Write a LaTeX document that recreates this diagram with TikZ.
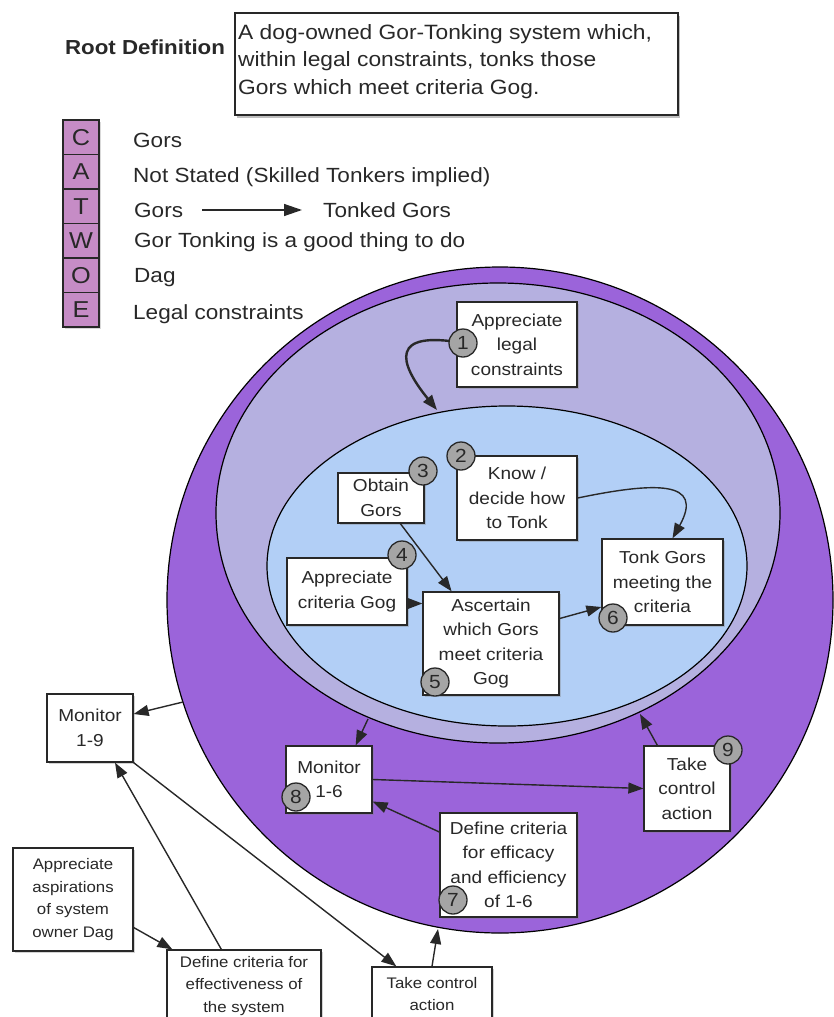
\documentclass[tikz,border=0pt]{standalone}
\usepackage{fontspec}
\setmainfont[FakeStretch=1.1]{Liberation Sans}
\usetikzlibrary{arrows.meta,shadows,calc}

\definecolor{ringpurple}{RGB}{155,100,218}
\definecolor{lavender}{RGB}{181,176,224}
\definecolor{skyblue}{RGB}{178,207,246}
\definecolor{catwoefill}{RGB}{198,140,198}
\definecolor{ink}{RGB}{40,40,40}
\definecolor{badgegray}{RGB}{165,165,165}

\begin{document}
\begin{tikzpicture}[x=1pt,y=-1pt,
  box/.style={draw=ink, line width=1.3pt, fill=white, inner sep=0pt, align=center,
    text=ink, drop shadow={shadow xshift=1.5pt, shadow yshift=-1.5pt, opacity=0.35},
    font=\fontsize{17.3}{24.5}\selectfont},
  smallbox/.style={box, font=\fontsize{15.3}{22.7}\selectfont},
  badge/.style={circle, draw=ink, line width=1.3pt, fill=badgegray, minimum size=28pt,
    inner sep=0pt, text=ink, font=\fontsize{19}{19}\selectfont},
  arr/.style={draw=ink, line width=1.4pt, -{Triangle[length=15pt,width=11pt]}},
  letterbox/.style={draw=ink, line width=1.2pt, fill=catwoefill, minimum width=36pt,
    minimum height=34.5pt, inner sep=0pt, text=ink, font=\fontsize{23}{23}\selectfont,
    drop shadow={shadow xshift=1.5pt, shadow yshift=-1.5pt, opacity=0.3}},
  catwoetext/.style={anchor=west, inner sep=0pt, text=ink, font=\fontsize{20.5}{24}\selectfont},
]
\useasboundingbox (0,0) rectangle (834,1017);
\clip (0,0) rectangle (834,1017);

% ---- Root definition ----
\node[inner sep=0pt, text=ink, font=\bfseries\fontsize{20.3}{24}\selectfont] (rdlabel) at (145,47) {Root Definition};
\node[draw=ink, line width=1.3pt, fill=white, minimum width=443pt, minimum height=102pt,
  drop shadow={shadow xshift=2pt, shadow yshift=-2.5pt, opacity=0.5}] (rootbox) at (456.5,64) {};
\node[anchor=north west, inner sep=0pt, align=left, text=ink,
  font=\fontsize{20.7}{27.7}\selectfont] (roottext) at (238,24)
  {A dog-owned Gor-Tonking system which,\\within legal constraints, tonks those\\Gors which meet criteria Gog.};

% ---- CATWOE ----
\node[letterbox] (cC) at (81,137.25) {C};
\node[letterbox] (cA) at (81,171.75) {A};
\node[letterbox] (cT) at (81,206.25) {T};
\node[letterbox] (cW) at (81,240.75) {W};
\node[letterbox] (cO) at (81,275.25) {O};
\node[letterbox] (cE) at (81,309.75) {E};

\node[catwoetext] (tC) at (133,140) {Gors};
\node[catwoetext] (tA) at (133,177) {Not Stated (Skilled Tonkers implied)};
\node[catwoetext] (tT1) at (134,210) {Gors};
\node[catwoetext] (tT2) at (323,210) {Tonked Gors};
\node[catwoetext] (tW) at (134,242) {Gor Tonking is a good thing to do};
\node[catwoetext] (tO) at (134,278) {Dag};
\node[catwoetext] (tE) at (133,314) {Legal constraints};
\draw[draw=ink, line width=1.4pt, -{Triangle[length=18pt,width=12pt]}]
  ([xshift=19pt]tT1.east) -- ([xshift=-21pt]tT2.west);

% ---- System circles ----
\draw[fill=ringpurple, draw=black, line width=1.2pt] (500,600) circle (333);
\draw[fill=lavender, draw=black, line width=1.2pt] (498,513) ellipse [x radius=282, y radius=230];
\draw[fill=skyblue, draw=black, line width=1.2pt] (507,566) ellipse [x radius=240, y radius=160];

\coordinate (e1) at (437,410);
\coordinate (lavS) at (368,719);
\coordinate (lavE) at (640,714);
\coordinate (circW) at (183,702);
\coordinate (circS) at (438,929);

% ---- Activity boxes ----
\node[box, minimum width=120pt, minimum height=85pt] (n1) at (517,344.5) {Appreciate\\legal\\constraints};
\node[box, minimum width=120pt, minimum height=84pt] (n2) at (517,498) {Know /\\decide how\\to Tonk};
\node[box, minimum width=86pt, minimum height=50pt] (n3) at (381,498) {Obtain\\Gors};
\node[box, minimum width=120pt, minimum height=67pt] (n4) at (347,591.5) {Appreciate\\criteria Gog};
\node[box, minimum width=136pt, minimum height=103pt] (n5) at (491,643.5) {Ascertain\\which Gors\\meet criteria\\Gog};
\node[box, minimum width=121pt, minimum height=86pt] (n6) at (662.5,582) {Tonk Gors\\meeting the\\criteria};
\node[box, minimum width=137pt, minimum height=104pt] (n7) at (508.5,865) {Define criteria\\for efficacy\\and efficiency\\of 1-6};
\node[box, minimum width=86pt, minimum height=67pt] (n8) at (329,779.5) {Monitor\\1-6};
\node[box, minimum width=86pt, minimum height=85pt] (n9) at (687,788.5) {Take\\control\\action};

\node[box, minimum width=86pt, minimum height=68pt] (m19) at (90,728) {Monitor\\1-9};
\node[smallbox, minimum width=120pt, minimum height=103pt] (dag) at (73,899.5) {Appreciate\\aspirations\\of system\\owner Dag};
\node[smallbox, minimum width=154pt, minimum height=72pt] (dce) at (244,986) {Define criteria for\\effectiveness of\\the system};
\node[smallbox, minimum width=120pt, minimum height=54pt] (tca) at (432,994) {Take control\\action};

% ---- Connectors ----
\draw[arr, line width=2.4pt] (463,343) .. controls (390,330) and (398,362) .. (e1);
\draw[arr] (n2.east) .. controls (655,482) and (705,480) .. ([xshift=10pt]n6.north);
\draw[arr] (n3) -- (n5);
\draw[arr] ([yshift=-12pt]n4.east) -- ([yshift=-12pt]n4.east -| n5.west);
\draw[arr] ([yshift=25pt]n5.east) -- ([yshift=-25pt]n6.west);
\draw[arr] (lavS) -- ([xshift=-17pt]n8.north east);
\draw[arr] ([xshift=14pt]n9.north west) -- (lavE);
\draw[arr] (n8.east) -- (n9.west);
\draw[arr] ([yshift=33pt]n7.west) -- ([yshift=-22pt]n8.east);
\draw[arr] (circW) -- ([yshift=14pt]m19.east);
\draw[arr] (m19.south east) -- ([xshift=25pt]tca.north west);
\draw[arr] ([xshift=55pt]dce.north west) -- ([xshift=25pt]m19.south);
\draw[arr] ([yshift=-28pt]dag.east) -- ([xshift=6pt]dce.north west);
\draw[arr] (tca.north) -- (circS);

% ---- Step numbers ----
\node[badge] (b1) at (463,343) {1};
\node[badge] (b2) at (461,456) {2};
\node[badge] (b3) at (423,471) {3};
\node[badge] (b4) at (402,555) {4};
\node[badge] (b5) at (435,682) {5};
\node[badge] (b6) at (613,618) {6};
\node[badge] (b7) at (453,900) {7};
\node[badge] (b8) at (296,797) {8};
\node[badge] (b9) at (728,750) {9};
\end{tikzpicture}
\end{document}
